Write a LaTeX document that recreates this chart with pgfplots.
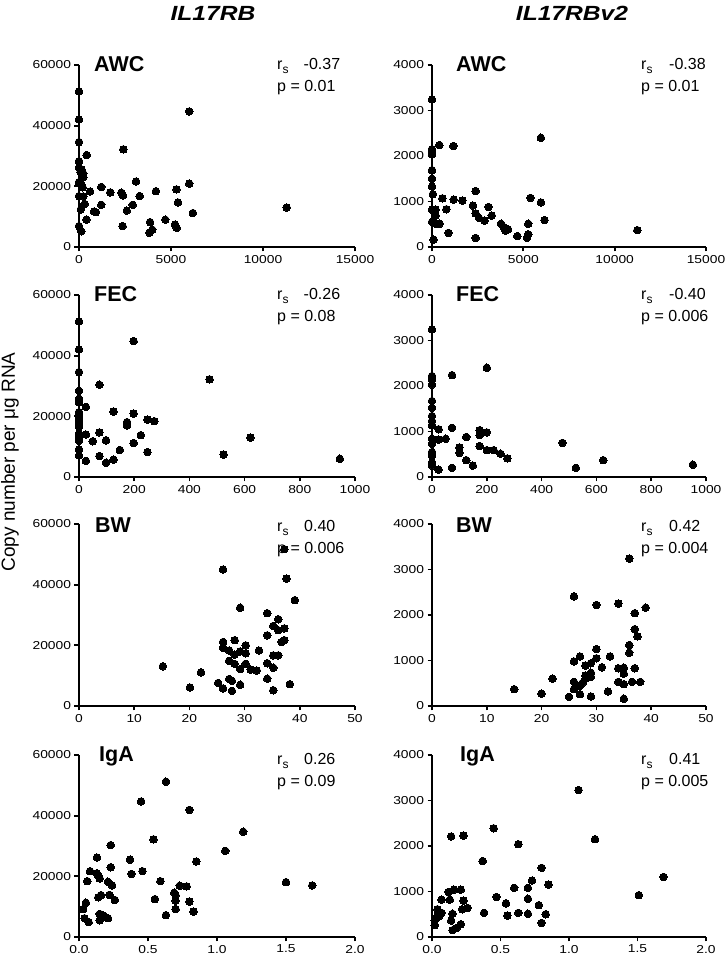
\documentclass[border=0pt]{standalone}
\usepackage{pgfplots}
\pgfplotsset{compat=1.18}
\usepackage{fontspec}
\setmainfont{Liberation Sans}
\usepackage{graphicx}
\pgfplotsset{
  panel/.style={
    scale only axis, height=182pt,
    anchor=south west,
    axis lines=left,
    axis line style={-, line width=2pt, black},
    tick align=outside,
    major tick length=4.5pt,
    tick style={line width=1.7pt, black},
    xmin=0, ymin=0,
    clip=false,
    scaled ticks=false,
    tick label style={font=\fontsize{11.5}{12}\selectfont},
    yticklabel={\scalebox{1.2}[1]{\pgfmathprintnumber[assume math mode=true,1000 sep={}]{\tick}}},
    xticklabel={\scalebox{1.2}[1]{\pgfmathprintnumber[assume math mode=true,1000 sep={}]{\tick}}},
  },
  pts/.style={black, only marks, mark=*, mark size=3.8pt, mark options={fill=black, draw=black, line width=0pt}},
  bigy/.style={ymax=60000, ytick={0,20000,40000,60000}},
  smally/.style={ymax=4000, ytick={0,1000,2000,3000,4000}},
  awcx/.style={xmax=15000, xtick={0,5000,10000,15000}},
  fecx/.style={xmax=1000, xtick={0,200,400,600,800,1000}},
  bwx/.style={xmax=50, xtick={0,10,20,30,40,50}},
  igax/.style={xmax=2, xtick={0,0.5,1,1.5,2},
    xticklabel={\scalebox{1.2}[1]{\pgfmathprintnumber[assume math mode=true,fixed,fixed zerofill,precision=1]{\tick}}}},
  leftcol/.style={width=276pt},
  rightcol/.style={width=274pt},
}
\newcommand{\axlines}{\draw[line width=2pt, black] (rel axis cs:0,1) -- (rel axis cs:0,0) -- (rel axis cs:1,0);}
\begin{document}
\begin{tikzpicture}
\path[use as bounding box] (0pt,0pt) rectangle (726pt,959pt);

% Row 1 left: IL17RB AWC
\begin{axis}[panel, leftcol, bigy, awcx, at={(79pt,712pt)}]
\axlines
\addplot[pts] coordinates {(0,51300) (0,42000) (0,34600) (420,30300) (0,28300) (0,26200) (140,25600) (80,24700) (230,24200) (230,23000) (0,21400) (100,21000) (200,19700) (0,16800) (230,16700) (310,14200) (100,12400) (600,18300) (1210,19800) (1700,18000) (2300,17900) (2390,17000) (3100,21600) (3300,16800) (2920,13900) (2600,12000) (820,11700) (920,11500) (1210,13900) (400,9000) (0,6900) (120,5200) (2370,6900) (3860,8200) (4180,18400) (4690,9000) (3820,4700) (3980,5700) (5220,7400) (5310,6300) (5300,19000) (5380,14700) (2410,32200) (5990,44700) (5990,20900) (6190,11200) (11290,13000)};
\end{axis}

% Row 1 right: IL17RBv2 AWC
\begin{axis}[panel, rightcol, smally, awcx, at={(432pt,712pt)}]
\axlines
\addplot[pts] coordinates {(0,3240) (0,2150) (0,2090) (0,2040) (400,2240) (1170,2220) (5960,2400) (0,1690) (0,1500) (0,1330) (50,1160) (570,1070) (1190,1040) (1660,1020) (2390,1230) (2240,910) (3090,880) (2390,740) (2570,640) (2880,580) (3270,690) (0,820) (200,820) (790,830) (200,690) (0,550) (200,510) (420,510) (90,160) (900,310) (2390,200) (3780,510) (3920,440) (4020,360) (4160,390) (4670,240) (5200,200) (5270,280) (5270,510) (5390,1080) (5960,980) (6160,590) (11240,370)};
\end{axis}

% Row 2 left: IL17RB FEC
\begin{axis}[panel, leftcol, bigy, fecx, at={(79pt,482pt)}]
\axlines
\addplot[pts] coordinates {(0,51300) (0,42000) (0,34600) (0,28400) (0,25800) (0,24700) (0,21400) (0,20300) (0,18900) (0,17600) (0,16500) (0,14300) (0,13000) (0,11900) (0,9100) (0,7100) (25,23100) (74,30400) (25,14000) (50,11800) (74,14700) (98,12100) (125,21600) (198,44800) (198,20900) (174,18100) (174,17000) (248,18900) (273,18400) (224,13800) (198,11200) (148,8900) (248,8200) (473,32200) (524,7400) (621,13000) (945,6000) (25,5300) (74,6900) (98,4700) (125,5700)};
\end{axis}

% Row 2 right: IL17RBv2 FEC
\begin{axis}[panel, rightcol, smally, fecx, at={(432pt,482pt)}]
\axlines
\addplot[pts] coordinates {(0,3240) (0,2220) (0,2150) (0,2030) (0,1670) (0,1520) (0,1340) (0,1230) (0,1140) (0,840) (0,730) (0,550) (0,480) (0,320) (0,250) (24,1050) (24,820) (50,840) (73,2240) (73,1080) (100,650) (100,530) (125,880) (125,370) (149,250) (174,1030) (174,920) (174,680) (200,2400) (200,980) (200,590) (225,590) (250,510) (275,410) (476,750) (525,200) (625,370) (952,270) (24,160) (73,200)};
\end{axis}

% Row 3 left: IL17RB BW
\begin{axis}[panel, leftcol, bigy, bwx, at={(79pt,253pt)}]
\axlines
\addplot[pts] coordinates {(15.2,13100) (20.1,6100) (22.1,11100) (25.2,7600) (26.1,45000) (26.1,21100) (26.1,19200) (26.1,5800) (27.2,18300) (27.2,14900) (27.2,8900) (27.7,8300) (27.7,5000) (28.2,21700) (28.2,16900) (28.2,13900) (29.2,32400) (29.2,18000) (29.2,12200) (29.2,7000) (30.2,20000) (30.2,17400) (30.2,13900) (31.1,12000) (32.2,11700) (32.6,18300) (34.1,30600) (34.1,23300) (34.1,14100) (34.1,9000) (35.2,16700) (35.2,12600) (35.2,5200) (35.2,26400) (36.1,28600) (36.1,16700) (36.1,25000) (36.7,21100) (37.2,21700) (37.2,25600) (37.2,51700) (37.6,42000) (39.1,34900) (38.2,7200)};
\end{axis}

% Row 3 right: IL17RBv2 BW
\begin{axis}[panel, rightcol, smally, bwx, at={(432pt,253pt)}]
\axlines
\addplot[pts] coordinates {(15,370) (20,270) (22,600) (25,200) (25.9,2410) (25.9,980) (25.9,530) (25.9,370) (27,1090) (27,260) (27,440) (27.5,510) (28,890) (28,670) (28,600) (29,730) (29,640) (29,940) (29,210) (30,2220) (30,1250) (30,1050) (31,850) (32.1,320) (32.5,1090) (34,2250) (34,830) (34,530) (35,840) (35,710) (35,480) (35,160) (36,3240) (36,1340) (36,1170) (36.5,530) (37,2040) (37,1690) (37,830) (37.5,1530) (38,530) (39,2160)};
\end{axis}

% Row 4 left: IL17RB IgA
\begin{axis}[panel, leftcol, bigy, igax, at={(79pt,22pt)}]
\axlines
\addplot[pts] coordinates {(0.03,9200) (0.05,11300) (0.04,6200) (0.07,4900) (0.08,21700) (0.06,18400) (0.13,26200) (0.13,21000) (0.14,20100) (0.15,19300) (0.14,13100) (0.16,13800) (0.15,5500) (0.15,7600) (0.18,7000) (0.21,6200) (0.21,18200) (0.22,13900) (0.23,30300) (0.23,23000) (0.24,17000) (0.26,12200) (0.37,25500) (0.38,20800) (0.45,44700) (0.46,21700) (0.54,32200) (0.55,12500) (0.59,18400) (0.63,51200) (0.63,7200) (0.69,14600) (0.70,12000) (0.70,9200) (0.70,13800) (0.73,16900) (0.78,16700) (0.80,41900) (0.80,11700) (0.83,8400) (0.85,24900) (1.06,28400) (1.19,34700) (1.50,18100) (1.69,17000)};
\end{axis}

% Row 4 right: IL17RBv2 IgA
\begin{axis}[panel, rightcol, smally, igax, at={(432pt,22pt)}]
\axlines
\addplot[pts] coordinates {(1.07,3230) (0.45,2390) (0.14,2210) (0.23,2230) (0.63,2040) (1.19,2150) (0.37,1670) (0.80,1520) (0.73,1240) (0.85,1150) (1.69,1320) (1.51,920) (0.60,1080) (0.70,1080) (0.70,840) (0.47,880) (0.54,740) (0.78,700) (0.38,530) (0.55,470) (0.63,530) (0.70,510) (0.83,500) (0.80,310) (0.07,820) (0.12,990) (0.16,1040) (0.21,1040) (0.13,820) (0.23,800) (0.22,610) (0.26,640) (0.04,610) (0.07,530) (0.05,450) (0.02,360) (0.02,260) (0.14,360) (0.15,510) (0.15,150) (0.18,200) (0.21,280) (0.04,470)};
\end{axis}

% Column titles
\node[anchor=base, inner sep=0pt, font=\fontsize{20.5}{21}\selectfont\bfseries\itshape] at (213pt,938.3pt) {\scalebox{1.2}[1]{IL17RB}};
\node[anchor=base, inner sep=0pt, font=\fontsize{20.5}{21}\selectfont\bfseries\itshape] at (572pt,938.3pt) {\scalebox{1.2}[1]{IL17RBv2}};

% y label
\node[rotate=90, inner sep=0pt, font=\fontsize{19}{19}\selectfont] at (10pt,497pt) {Copy number per μg RNA};

% Panel labels
\tikzset{plab/.style={anchor=base west, inner sep=0pt, font=\fontsize{21.5}{22}\selectfont\bfseries},
         stat/.style={anchor=base west, inner sep=0pt, font=\fontsize{16}{16}\selectfont}}
\node[plab] at (94pt,887pt) {AWC};
\node[plab] at (456pt,887pt) {AWC};
\node[plab] at (94pt,657pt) {FEC};
\node[plab] at (456pt,657pt) {FEC};
\node[plab] at (95pt,426pt) {BW};
\node[plab] at (456pt,426pt) {BW};
\node[plab] at (99pt,197pt) {IgA};
\node[plab] at (460pt,197pt) {IgA};

\newcommand{\rs}{r\raisebox{-3.5pt}{\fontsize{12}{12}\selectfont s}}
% Stats
\node[stat] at (277pt,889pt) {\rs};  \node[stat] at (303.5pt,889pt) {-0.37};
\node[stat] at (277pt,867.3pt) {p = 0.01};
\node[stat] at (641pt,889pt) {\rs};  \node[stat] at (669pt,889pt) {-0.38};
\node[stat] at (641pt,867.3pt) {p = 0.01};

\node[stat] at (277pt,659pt) {\rs};  \node[stat] at (303.5pt,659pt) {-0.26};
\node[stat] at (277pt,637.3pt) {p = 0.08};
\node[stat] at (641pt,659pt) {\rs};  \node[stat] at (669pt,659pt) {-0.40};
\node[stat] at (641pt,637.3pt) {p = 0.006};

\node[stat] at (277pt,427.3pt) {\rs};  \node[stat] at (304pt,427.3pt) {0.40};
\node[stat] at (277pt,405pt) {p = 0.006};
\node[stat] at (641pt,427.3pt) {\rs};  \node[stat] at (669pt,427.3pt) {0.42};
\node[stat] at (641pt,405pt) {p = 0.004};

\node[stat] at (277pt,194pt) {\rs};  \node[stat] at (304pt,194pt) {0.26};
\node[stat] at (277pt,172pt) {p = 0.09};
\node[stat] at (641pt,194pt) {\rs};  \node[stat] at (669pt,194pt) {0.41};
\node[stat] at (641pt,172pt) {p = 0.005};
\end{tikzpicture}
\end{document}
